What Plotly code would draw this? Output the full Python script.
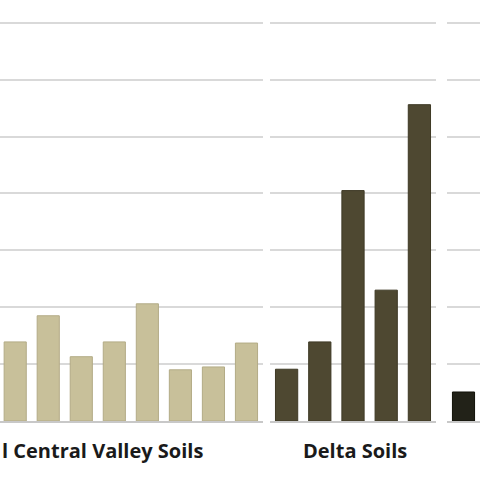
import plotly.graph_objects as go
from plotly.subplots import make_subplots

# значения столбцов (единица = одна линия сетки)
valley_vals = [1.39, 1.85, 1.13, 1.39, 2.06, 0.90, 0.95, 1.37]
delta_vals = [0.91, 1.39, 4.05, 2.30, 5.56]
third_vals = [0.51]

valley_label = "l Central Valley Soils"
delta_label = "Delta Soils"

fig = make_subplots(rows=1, cols=3, shared_yaxes=True, horizontal_spacing=0.0)

fig.add_trace(go.Bar(x=list(range(len(valley_vals))), y=valley_vals,
                     marker=dict(color="#c8c09a", line=dict(color="#b3ab86", width=1))),
              row=1, col=1)
fig.add_trace(go.Bar(x=list(range(len(delta_vals))), y=delta_vals,
                     marker=dict(color="#4e4831", line=dict(color="#3e3925", width=1))),
              row=1, col=2)
fig.add_trace(go.Bar(x=list(range(len(third_vals))), y=third_vals,
                     marker=dict(color="#222218", line=dict(color="#111108", width=1))),
              row=1, col=3)

W = 480.0
fig.update_layout(
    width=480, height=480,
    margin=dict(l=0, r=0, t=0, b=59),
    paper_bgcolor="white", plot_bgcolor="white",
    showlegend=False,
    bargap=0.33,
    xaxis=dict(domain=[0, 263 / W], range=[-0.46, 7.5]),
    xaxis2=dict(domain=[270 / W, 436 / W], range=[-0.5, 4.5]),
    xaxis3=dict(domain=[447 / W, 1], range=[-0.5, 0.5]),
)
fig.update_xaxes(showticklabels=False, showgrid=False, zeroline=False,
                 showline=True, linecolor="#c8c8c8", linewidth=1.5, ticks="")
fig.update_yaxes(range=[0, 7.4], dtick=1, showticklabels=False,
                 showgrid=True, gridcolor="#d9d9d9", gridwidth=1.5,
                 zeroline=False, showline=False, ticks="")

font = dict(family="Open Sans, sans-serif", size=20, weight=700, color="#1a1a1a")
fig.add_annotation(text=valley_label, xref="paper", yref="paper",
                   x=0, y=-0.071, xanchor="left", yanchor="middle",
                   showarrow=False, font=font)
fig.add_annotation(text=delta_label, xref="paper", yref="paper",
                   x=355 / W, y=-0.071, xanchor="center", yanchor="middle",
                   showarrow=False, font=font)

# убираем отступ body, чтобы график начинался с (0,0)
fig.write_html("out.html", config={"displayModeBar": False},
               post_script="document.body.style.margin='0';")
